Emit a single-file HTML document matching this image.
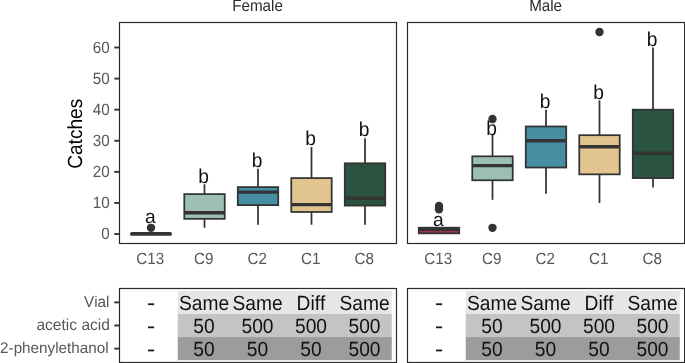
<!DOCTYPE html>
<html><head><meta charset="utf-8"><title>Catches</title>
<style>html,body{margin:0;padding:0;background:#fff;}body{width:685px;height:363px;overflow:hidden;}</style>
</head><body>
<svg width="685" height="363" viewBox="0 0 685 363" style="display:block;will-change:transform;text-rendering:geometricPrecision;font-variant-ligatures:none;font-kerning:none;font-family:'Liberation Sans',sans-serif">
<rect width="685" height="363" fill="#fff"/>
<text transform="translate(257.55,11.40) scale(1,1.07)" font-size="15.2" fill="#2b2b2b" text-anchor="middle">Female</text>
<line x1="131.88" x2="170.12" y1="233.90" y2="233.90" stroke="#333" stroke-width="3.7" stroke-linecap="round"/>
<circle cx="151.00" cy="227.83" r="4.2" fill="#333"/>
<text transform="translate(150.30,222.60) scale(1,0.99)" font-size="19.2" fill="#111" text-anchor="middle">a</text>
<text transform="translate(150.30,263.90) scale(1,1.07)" font-size="15.2" fill="#575757" text-anchor="middle">C13</text>
<line x1="204.50" x2="204.50" y1="184.31" y2="194.10" stroke="#333" stroke-width="1.75"/>
<line x1="204.50" x2="204.50" y1="218.82" y2="227.83" stroke="#333" stroke-width="1.75"/>
<rect x="184.28" y="194.10" width="40.45" height="24.72" fill="#9DBFB3" stroke="#333" stroke-width="1.75"/>
<line x1="184.28" x2="224.72" y1="212.69" y2="212.69" stroke="#333" stroke-width="3.4"/>
<text transform="translate(203.70,182.51) scale(1,1.04)" font-size="19.2" fill="#111" text-anchor="middle">b</text>
<text transform="translate(203.80,263.90) scale(1,1.07)" font-size="15.2" fill="#575757" text-anchor="middle">C9</text>
<line x1="258.00" x2="258.00" y1="168.76" y2="187.10" stroke="#333" stroke-width="1.75"/>
<line x1="258.00" x2="258.00" y1="205.14" y2="224.72" stroke="#333" stroke-width="1.75"/>
<rect x="237.78" y="187.10" width="40.45" height="18.03" fill="#468FA3" stroke="#333" stroke-width="1.75"/>
<line x1="237.78" x2="278.23" y1="192.08" y2="192.08" stroke="#333" stroke-width="3.4"/>
<text transform="translate(257.20,166.96) scale(1,1.04)" font-size="19.2" fill="#111" text-anchor="middle">b</text>
<text transform="translate(257.30,263.90) scale(1,1.07)" font-size="15.2" fill="#575757" text-anchor="middle">C2</text>
<line x1="311.50" x2="311.50" y1="147.00" y2="178.09" stroke="#333" stroke-width="1.75"/>
<line x1="311.50" x2="311.50" y1="211.98" y2="224.72" stroke="#333" stroke-width="1.75"/>
<rect x="291.27" y="178.09" width="40.45" height="33.89" fill="#E2C48E" stroke="#333" stroke-width="1.75"/>
<line x1="291.27" x2="331.73" y1="204.67" y2="204.67" stroke="#333" stroke-width="3.4"/>
<text transform="translate(310.70,145.20) scale(1,1.04)" font-size="19.2" fill="#111" text-anchor="middle">b</text>
<text transform="translate(310.80,263.90) scale(1,1.07)" font-size="15.2" fill="#575757" text-anchor="middle">C1</text>
<line x1="365.00" x2="365.00" y1="138.14" y2="163.32" stroke="#333" stroke-width="1.75"/>
<line x1="365.00" x2="365.00" y1="205.60" y2="224.72" stroke="#333" stroke-width="1.75"/>
<rect x="344.77" y="163.32" width="40.45" height="42.28" fill="#2A5340" stroke="#333" stroke-width="1.75"/>
<line x1="344.77" x2="385.23" y1="198.30" y2="198.30" stroke="#333" stroke-width="3.4"/>
<text transform="translate(364.20,136.34) scale(1,1.04)" font-size="19.2" fill="#111" text-anchor="middle">b</text>
<text transform="translate(364.30,263.90) scale(1,1.07)" font-size="15.2" fill="#575757" text-anchor="middle">C8</text>
<rect x="119.50" y="22.5" width="277.00" height="221.00" fill="none" stroke="#2a2a2a" stroke-width="1.2"/>
<rect x="177.75" y="290.81" width="214.00" height="23.12" fill="#E6E6E6"/>
<rect x="147.95" y="303.32" width="6.2" height="1.8" fill="#1c1c1c"/>
<text transform="translate(204.00,309.68) scale(1,1.07)" font-size="19.2" fill="#111" text-anchor="middle">Same</text>
<text transform="translate(257.50,309.68) scale(1,1.07)" font-size="19.2" fill="#111" text-anchor="middle">Same</text>
<text transform="translate(311.00,309.68) scale(1,1.07)" font-size="19.2" fill="#111" text-anchor="middle">Diff</text>
<text transform="translate(364.50,309.68) scale(1,1.07)" font-size="19.2" fill="#111" text-anchor="middle">Same</text>
<rect x="177.75" y="313.94" width="214.00" height="23.12" fill="#C4C4C4"/>
<rect x="147.95" y="326.45" width="6.2" height="1.8" fill="#1c1c1c"/>
<text transform="translate(204.00,332.80) scale(1,1.07)" font-size="19.2" fill="#111" text-anchor="middle">50</text>
<text transform="translate(257.50,332.80) scale(1,1.07)" font-size="19.2" fill="#111" text-anchor="middle">500</text>
<text transform="translate(311.00,332.80) scale(1,1.07)" font-size="19.2" fill="#111" text-anchor="middle">500</text>
<text transform="translate(364.50,332.80) scale(1,1.07)" font-size="19.2" fill="#111" text-anchor="middle">500</text>
<rect x="177.75" y="337.06" width="214.00" height="23.12" fill="#9C9C9C"/>
<rect x="147.95" y="349.57" width="6.2" height="1.8" fill="#1c1c1c"/>
<text transform="translate(204.00,355.93) scale(1,1.07)" font-size="19.2" fill="#111" text-anchor="middle">50</text>
<text transform="translate(257.50,355.93) scale(1,1.07)" font-size="19.2" fill="#111" text-anchor="middle">50</text>
<text transform="translate(311.00,355.93) scale(1,1.07)" font-size="19.2" fill="#111" text-anchor="middle">50</text>
<text transform="translate(364.50,355.93) scale(1,1.07)" font-size="19.2" fill="#111" text-anchor="middle">500</text>
<rect x="119.50" y="288.5" width="277.00" height="74.00" fill="none" stroke="#2a2a2a" stroke-width="1.2"/>
<text transform="translate(545.60,11.40) scale(1,1.07)" font-size="15.2" fill="#2b2b2b" text-anchor="middle">Male</text>
<rect x="418.77" y="227.71" width="40.45" height="5.66" fill="#9E3444" stroke="#333" stroke-width="1.75"/>
<line x1="418.77" x2="459.23" y1="229.39" y2="229.39" stroke="#333" stroke-width="3.4"/>
<circle cx="439.00" cy="209.18" r="4.2" fill="#333"/>
<circle cx="439.00" cy="206.07" r="4.2" fill="#333"/>
<text transform="translate(438.30,225.91) scale(1,0.99)" font-size="19.2" fill="#111" text-anchor="middle">a</text>
<text transform="translate(438.30,263.90) scale(1,1.07)" font-size="15.2" fill="#575757" text-anchor="middle">C13</text>
<line x1="492.50" x2="492.50" y1="134.56" y2="156.33" stroke="#333" stroke-width="1.75"/>
<line x1="492.50" x2="492.50" y1="180.26" y2="199.85" stroke="#333" stroke-width="1.75"/>
<rect x="472.27" y="156.33" width="40.45" height="23.94" fill="#9DBFB3" stroke="#333" stroke-width="1.75"/>
<line x1="472.27" x2="512.73" y1="165.65" y2="165.65" stroke="#333" stroke-width="3.4"/>
<circle cx="492.50" cy="119.02" r="4.2" fill="#333"/>
<circle cx="492.50" cy="227.83" r="4.2" fill="#333"/>
<text transform="translate(491.70,135.20) scale(1,1.04)" font-size="19.2" fill="#111" text-anchor="middle">b</text>
<text transform="translate(491.80,263.90) scale(1,1.07)" font-size="15.2" fill="#575757" text-anchor="middle">C9</text>
<line x1="546.00" x2="546.00" y1="109.69" y2="126.48" stroke="#333" stroke-width="1.75"/>
<line x1="546.00" x2="546.00" y1="167.52" y2="193.63" stroke="#333" stroke-width="1.75"/>
<rect x="525.77" y="126.48" width="40.45" height="41.04" fill="#468FA3" stroke="#333" stroke-width="1.75"/>
<line x1="525.77" x2="566.23" y1="140.78" y2="140.78" stroke="#333" stroke-width="3.4"/>
<text transform="translate(545.20,107.89) scale(1,1.04)" font-size="19.2" fill="#111" text-anchor="middle">b</text>
<text transform="translate(545.30,263.90) scale(1,1.07)" font-size="15.2" fill="#575757" text-anchor="middle">C2</text>
<line x1="599.50" x2="599.50" y1="100.36" y2="135.18" stroke="#333" stroke-width="1.75"/>
<line x1="599.50" x2="599.50" y1="174.36" y2="202.96" stroke="#333" stroke-width="1.75"/>
<rect x="579.27" y="135.18" width="40.45" height="39.17" fill="#E2C48E" stroke="#333" stroke-width="1.75"/>
<line x1="579.27" x2="619.73" y1="146.69" y2="146.69" stroke="#333" stroke-width="3.4"/>
<circle cx="599.50" cy="31.97" r="4.2" fill="#333"/>
<text transform="translate(598.70,98.56) scale(1,1.04)" font-size="19.2" fill="#111" text-anchor="middle">b</text>
<text transform="translate(598.80,263.90) scale(1,1.07)" font-size="15.2" fill="#575757" text-anchor="middle">C1</text>
<line x1="653.00" x2="653.00" y1="47.51" y2="109.69" stroke="#333" stroke-width="1.75"/>
<line x1="653.00" x2="653.00" y1="178.09" y2="187.42" stroke="#333" stroke-width="1.75"/>
<rect x="632.77" y="109.69" width="40.45" height="68.40" fill="#2A5340" stroke="#333" stroke-width="1.75"/>
<line x1="632.77" x2="673.23" y1="153.22" y2="153.22" stroke="#333" stroke-width="3.4"/>
<text transform="translate(652.20,45.71) scale(1,1.04)" font-size="19.2" fill="#111" text-anchor="middle">b</text>
<text transform="translate(652.30,263.90) scale(1,1.07)" font-size="15.2" fill="#575757" text-anchor="middle">C8</text>
<rect x="407.50" y="22.5" width="277.10" height="221.00" fill="none" stroke="#2a2a2a" stroke-width="1.2"/>
<rect x="465.75" y="290.81" width="214.00" height="23.12" fill="#E6E6E6"/>
<rect x="435.95" y="303.32" width="6.2" height="1.8" fill="#1c1c1c"/>
<text transform="translate(492.00,309.68) scale(1,1.07)" font-size="19.2" fill="#111" text-anchor="middle">Same</text>
<text transform="translate(545.50,309.68) scale(1,1.07)" font-size="19.2" fill="#111" text-anchor="middle">Same</text>
<text transform="translate(599.00,309.68) scale(1,1.07)" font-size="19.2" fill="#111" text-anchor="middle">Diff</text>
<text transform="translate(652.50,309.68) scale(1,1.07)" font-size="19.2" fill="#111" text-anchor="middle">Same</text>
<rect x="465.75" y="313.94" width="214.00" height="23.12" fill="#C4C4C4"/>
<rect x="435.95" y="326.45" width="6.2" height="1.8" fill="#1c1c1c"/>
<text transform="translate(492.00,332.80) scale(1,1.07)" font-size="19.2" fill="#111" text-anchor="middle">50</text>
<text transform="translate(545.50,332.80) scale(1,1.07)" font-size="19.2" fill="#111" text-anchor="middle">500</text>
<text transform="translate(599.00,332.80) scale(1,1.07)" font-size="19.2" fill="#111" text-anchor="middle">500</text>
<text transform="translate(652.50,332.80) scale(1,1.07)" font-size="19.2" fill="#111" text-anchor="middle">500</text>
<rect x="465.75" y="337.06" width="214.00" height="23.12" fill="#9C9C9C"/>
<rect x="435.95" y="349.57" width="6.2" height="1.8" fill="#1c1c1c"/>
<text transform="translate(492.00,355.93) scale(1,1.07)" font-size="19.2" fill="#111" text-anchor="middle">50</text>
<text transform="translate(545.50,355.93) scale(1,1.07)" font-size="19.2" fill="#111" text-anchor="middle">50</text>
<text transform="translate(599.00,355.93) scale(1,1.07)" font-size="19.2" fill="#111" text-anchor="middle">50</text>
<text transform="translate(652.50,355.93) scale(1,1.07)" font-size="19.2" fill="#111" text-anchor="middle">500</text>
<rect x="407.50" y="288.5" width="277.10" height="74.00" fill="none" stroke="#2a2a2a" stroke-width="1.2"/>
<line x1="114.30" x2="119.50" y1="234.05" y2="234.05" stroke="#333" stroke-width="1.9"/>
<text transform="translate(109.60,239.10) scale(1,1.07)" font-size="15.2" fill="#575757" text-anchor="end">0</text>
<line x1="114.30" x2="119.50" y1="202.96" y2="202.96" stroke="#333" stroke-width="1.9"/>
<text transform="translate(109.60,208.01) scale(1,1.07)" font-size="15.2" fill="#575757" text-anchor="end">10</text>
<line x1="114.30" x2="119.50" y1="171.87" y2="171.87" stroke="#333" stroke-width="1.9"/>
<text transform="translate(109.60,176.92) scale(1,1.07)" font-size="15.2" fill="#575757" text-anchor="end">20</text>
<line x1="114.30" x2="119.50" y1="140.78" y2="140.78" stroke="#333" stroke-width="1.9"/>
<text transform="translate(109.60,145.83) scale(1,1.07)" font-size="15.2" fill="#575757" text-anchor="end">30</text>
<line x1="114.30" x2="119.50" y1="109.69" y2="109.69" stroke="#333" stroke-width="1.9"/>
<text transform="translate(109.60,114.74) scale(1,1.07)" font-size="15.2" fill="#575757" text-anchor="end">40</text>
<line x1="114.30" x2="119.50" y1="78.60" y2="78.60" stroke="#333" stroke-width="1.9"/>
<text transform="translate(109.60,83.65) scale(1,1.07)" font-size="15.2" fill="#575757" text-anchor="end">50</text>
<line x1="114.30" x2="119.50" y1="47.51" y2="47.51" stroke="#333" stroke-width="1.9"/>
<text transform="translate(109.60,52.56) scale(1,1.07)" font-size="15.2" fill="#575757" text-anchor="end">60</text>
<text transform="translate(81.50,133.80) rotate(-90) scale(1,1.07)" font-size="19.1" fill="#000" text-anchor="middle">Catches</text>
<line x1="114.30" x2="119.50" y1="302.38" y2="302.38" stroke="#333" stroke-width="1.9"/>
<text transform="translate(109.50,307.07) scale(1,1.02)" font-size="15.3" fill="#575757" text-anchor="end">Vial</text>
<line x1="114.30" x2="119.50" y1="325.50" y2="325.50" stroke="#333" stroke-width="1.9"/>
<text transform="translate(109.90,330.20) scale(1,1.02)" font-size="15.55" fill="#575757" text-anchor="end">acetic acid</text>
<line x1="114.30" x2="119.50" y1="348.62" y2="348.62" stroke="#333" stroke-width="1.9"/>
<text transform="translate(108.60,353.32) scale(1,1.02)" font-size="15.25" fill="#575757" text-anchor="end">2-phenylethanol</text>
</svg>
</body></html>
